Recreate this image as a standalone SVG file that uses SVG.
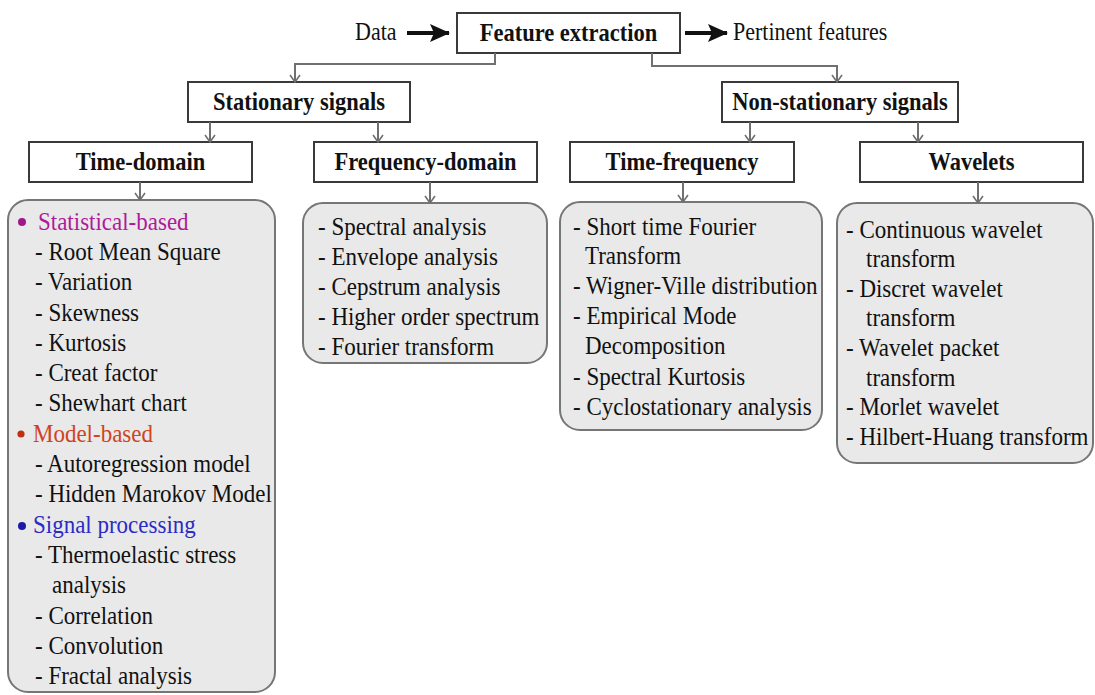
<svg xmlns="http://www.w3.org/2000/svg" width="1095" height="695" viewBox="0 0 1095 695">
  <style>
    text { font-family: "Liberation Serif", "Times New Roman", serif; fill: #111; transform-box: fill-box; transform-origin: 0 100%; transform: scaleY(1.1); }
    .title { font-size: 22.5px; font-weight: bold; text-anchor: middle; }
    .item { font-size: 23px; }
    .plain { font-size: 22px; }
    .tbox { fill: #ffffff; stroke: #3a3a3a; stroke-width: 2; }
    .cbox { fill: #e9e9e9; stroke: #767676; stroke-width: 2; }
    .conn { fill: none; stroke: #707070; stroke-width: 2; marker-end: url(#vhead); }
    .bold-arrow { fill: none; stroke: #111; stroke-width: 4; marker-end: url(#solidhead); }
  </style>
  <defs>
    <marker id="vhead" viewBox="0 0 12 12" refX="11" refY="6" markerWidth="12" markerHeight="12" markerUnits="userSpaceOnUse" orient="auto">
      <path d="M4,1 L11,6 L4,11" fill="none" stroke="#707070" stroke-width="1.6"/>
    </marker>
    <marker id="solidhead" viewBox="0 0 20 18" refX="19" refY="9" markerWidth="20" markerHeight="18" markerUnits="userSpaceOnUse" orient="auto">
      <path d="M0,0 L20,9 L0,18 L4,9 Z" fill="#111"/>
    </marker>
  </defs>

  <!-- top row: input, extraction, output -->
  <g id="data-label">
    <text class="plain" x="355" y="40">Data</text>
  </g>
  <g id="feature-extraction">
    <rect class="tbox" x="457" y="13" width="223" height="40"/>
    <text class="title" x="568.5" y="41">Feature extraction</text>
  </g>
  <g id="pertinent-label">
    <text class="plain" x="733" y="40">Pertinent features</text>
  </g>

  <!-- signal classes -->
  <g id="stationary">
    <rect class="tbox" x="188" y="82" width="222" height="40"/>
    <text class="title" x="299" y="110">Stationary signals</text>
  </g>
  <g id="non-stationary">
    <rect class="tbox" x="722" y="82" width="236" height="40"/>
    <text class="title" x="840" y="110">Non-stationary signals</text>
  </g>

  <!-- analysis domains -->
  <g id="time-domain">
    <rect class="tbox" x="29" y="142" width="223" height="40"/>
    <text class="title" x="140.5" y="170">Time-domain</text>
  </g>
  <g id="frequency-domain">
    <rect class="tbox" x="314" y="142" width="223" height="40"/>
    <text class="title" x="425.5" y="170">Frequency-domain</text>
  </g>
  <g id="time-frequency">
    <rect class="tbox" x="570" y="142" width="224" height="40"/>
    <text class="title" x="682" y="170">Time-frequency</text>
  </g>
  <g id="wavelets">
    <rect class="tbox" x="860" y="142" width="223" height="40"/>
    <text class="title" x="971.5" y="170">Wavelets</text>
  </g>

  <!-- method lists -->
  <g id="time-domain-methods">
    <rect class="cbox" x="8" y="200" width="267" height="492" rx="20" ry="20"/>
    <circle cx="22" cy="222" r="4" fill="#a0168c"/>
    <text class="item" x="38" y="230" style="fill:#b0199b">Statistical-based</text>
    <text class="item" x="35" y="260.5">- Root Mean Square</text>
    <text class="item" x="35" y="290.8">- Variation</text>
    <text class="item" x="35" y="321">- Skewness</text>
    <text class="item" x="35" y="351.3">- Kurtosis</text>
    <text class="item" x="35" y="381.5">- Creat factor</text>
    <text class="item" x="35" y="411.8">- Shewhart chart</text>
    <circle cx="21" cy="434" r="3.6" fill="#c0300f"/>
    <text class="item" x="33" y="442" style="fill:#d0431f">Model-based</text>
    <text class="item" x="35" y="472.5">- Autoregression model</text>
    <text class="item" x="35" y="502.8">- Hidden Marokov Model</text>
    <circle cx="22" cy="526" r="4" fill="#1a1aa8"/>
    <text class="item" x="33" y="533" style="fill:#2c2cc4">Signal processing</text>
    <text class="item" x="35" y="563.5">- Thermoelastic stress</text>
    <text class="item" x="52" y="593.8">analysis</text>
    <text class="item" x="35" y="624">- Correlation</text>
    <text class="item" x="35" y="654.3">- Convolution</text>
    <text class="item" x="35" y="684.5">- Fractal analysis</text>
  </g>

  <g id="frequency-domain-methods">
    <rect class="cbox" x="303" y="203" width="244" height="160" rx="20" ry="20"/>
    <text class="item" x="318" y="235">- Spectral analysis</text>
    <text class="item" x="318" y="265">- Envelope analysis</text>
    <text class="item" x="318" y="295">- Cepstrum analysis</text>
    <text class="item" x="318" y="325">- Higher order spectrum</text>
    <text class="item" x="318" y="355">- Fourier transform</text>
  </g>

  <g id="time-frequency-methods">
    <rect class="cbox" x="560" y="202" width="262" height="228" rx="20" ry="20"/>
    <text class="item" x="573" y="235">- Short time Fourier</text>
    <text class="item" x="585" y="264">Transform</text>
    <text class="item" x="573" y="294">- Wigner-Ville distribution</text>
    <text class="item" x="573" y="324">- Empirical Mode</text>
    <text class="item" x="585" y="354">Decomposition</text>
    <text class="item" x="573" y="385">- Spectral Kurtosis</text>
    <text class="item" x="573" y="415">- Cyclostationary analysis</text>
  </g>

  <g id="wavelet-methods">
    <rect class="cbox" x="837" y="203" width="256" height="260" rx="20" ry="20"/>
    <text class="item" x="846" y="238">- Continuous wavelet</text>
    <text class="item" x="866" y="267">transform</text>
    <text class="item" x="846" y="297">- Discret wavelet</text>
    <text class="item" x="866" y="326">transform</text>
    <text class="item" x="846" y="356">- Wavelet packet</text>
    <text class="item" x="866" y="386">transform</text>
    <text class="item" x="846" y="415">- Morlet wavelet</text>
    <text class="item" x="846" y="445">- Hilbert-Huang transform</text>
  </g>

  <!-- connectors -->
  <g id="connectors">
    <path class="bold-arrow" d="M407,33 H449"/>
    <path class="bold-arrow" d="M685,33 H727"/>
    <path class="conn" d="M495,53 V64 H295 V82"/>
    <path class="conn" d="M652,53 V66 H837 V82"/>
    <path class="conn" d="M210,122 V142"/>
    <path class="conn" d="M378,122 V142"/>
    <path class="conn" d="M750,122 V142"/>
    <path class="conn" d="M918,122 V142"/>
    <path class="conn" d="M140,182 V200"/>
    <path class="conn" d="M430,182 V203"/>
    <path class="conn" d="M683,182 V202"/>
    <path class="conn" d="M978,182 V203"/>
  </g>
</svg>
